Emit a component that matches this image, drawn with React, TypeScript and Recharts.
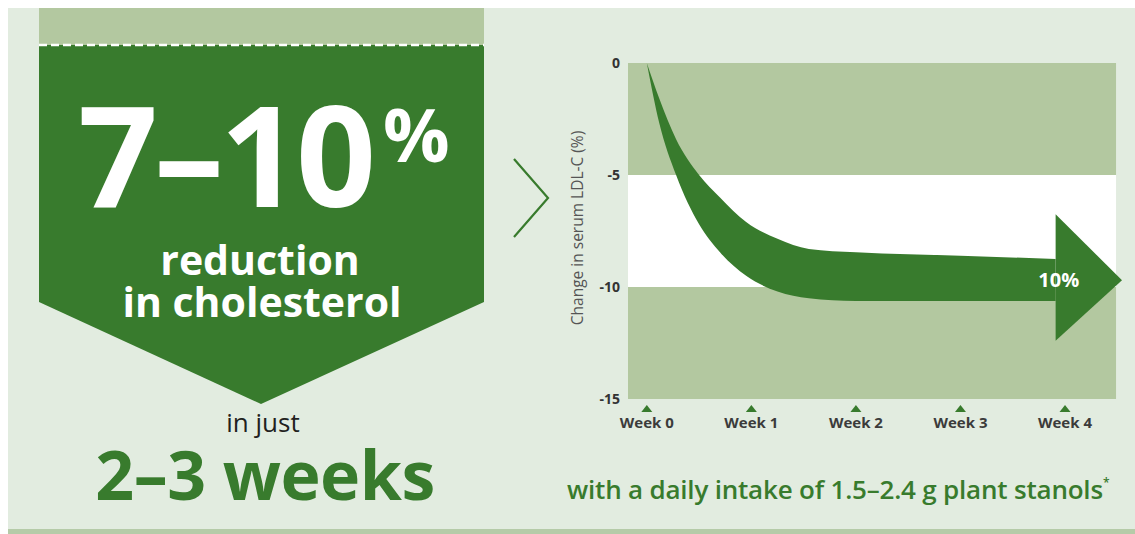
import { ComposedChart, Area, XAxis, YAxis, ReferenceArea, ReferenceDot, Label } from 'recharts';

const GREEN = '#387b2d';
const LIGHT = '#b3c8a0';
const PANEL = '#e2ece0';
const FONT = '"Open Sans", sans-serif';

const weekTicks = [0, 1, 2, 3, 4];
const weekLabels = ['Week 0', 'Week 1', 'Week 2', 'Week 3', 'Week 4'];
const yTicks = [0, -5, -10, -15];
const bandEdges = [0, -5, -10, -15];

// curved body of the arrow (upper / lower edge, % change)
const bodyWeeks = [0, 0.12, 0.28, 0.5, 0.7, 0.95, 1.25, 1.55, 2, 3, 3.91];
const bodyUpper = [0, -1.6, -3.4, -5.0, -6.0, -7.1, -7.85, -8.3, -8.45, -8.6, -8.75];
const bodyLower = [0, -2.7, -5.0, -7.2, -8.45, -9.5, -10.2, -10.5, -10.62, -10.63, -10.63];

// arrow head
const headWeeks = [3.91, 4.545];
const headUpper = [-6.75, -9.7];
const headLower = [-12.4, -9.7];

const bodyData = bodyWeeks.map((w, i) => ({ week: w, range: [bodyLower[i], bodyUpper[i]] }));
const headData = headWeeks.map((w, i) => ({ week: w, range: [headLower[i], headUpper[i]] }));

function WeekTick({ x, y, payload }: any) {
  const label = weekLabels[weekTicks.indexOf(payload.value)];
  return (
    <g>
      <polygon points={`${x - 5.5},${y + 13} ${x + 5.5},${y + 13} ${x},${y + 6}`} fill={GREEN} />
      <text x={x} y={y + 29} textAnchor="middle" fontSize={15} fontWeight={700} fill="#3b3b3b" fontFamily={FONT}>
        {label}
      </text>
    </g>
  );
}

export default function App() {
  return (
    <div style={{ position: 'fixed', left: 0, top: 0, width: 1135, height: 534, overflow: 'hidden', background: '#fff' }}>
      <svg width={1135} height={534} style={{ position: 'absolute', left: 0, top: 0 }} fontFamily={FONT}>
        <rect x={8} y={8} width={1127} height={521} fill={PANEL} />
        <rect x={8} y={529} width={1127} height={5} fill="#b5cba8" />
        <rect x={39} y={8} width={445} height={38} fill={LIGHT} />
        <polygon points="39,45 484,45 484,302 261,404 39,302" fill={GREEN} />
        <line x1={39} x2={484} y1={45} y2={45} stroke="#fff" strokeWidth={2.5} strokeDasharray="8 4" />
        <polyline points="514,159 548,198 514,237" fill="none" stroke={GREEN} strokeWidth={2.2} />

        <text x={78} y={207} fontSize={140} fontWeight={700} fill="#fff" letterSpacing={-4}>7–10</text>
        <text x={383} y={162} fontSize={74} fontWeight={700} fill="#fff">%</text>
        <text x={260} y={275} textAnchor="middle" fontSize={41} fontWeight={700} fill="#fff">reduction</text>
        <text x={262} y={317} textAnchor="middle" fontSize={41} fontWeight={700} fill="#fff">in cholesterol</text>
        <text x={263} y={432} textAnchor="middle" fontSize={26} fill="#231f20">in just</text>
        <text x={265} y={500} textAnchor="middle" fontSize={68} fontWeight={700} fill={GREEN} letterSpacing={-0.5}>2–3 weeks</text>
        <text x={567} y={499} fontSize={26} fontWeight={600} fill={GREEN} letterSpacing={-0.2}>
          with a daily intake of 1.5–2.4 g plant stanols
          <tspan fontSize={12} dy={-12}>*</tspan>
        </text>
      </svg>

      <div style={{ position: 'absolute', left: 540, top: 0 }}>
        <ComposedChart width={595} height={534} margin={{ top: 63, right: 13, bottom: 95, left: 28 }} style={{ fontFamily: FONT }}>
          <XAxis
            type="number"
            dataKey="week"
            domain={[-0.18, 4.545]}
            ticks={weekTicks}
            interval={0}
            allowDataOverflow
            axisLine={false}
            tickLine={false}
            tickSize={0}
            tickMargin={0}
            height={40}
            tick={<WeekTick />}
          />
          <YAxis
            type="number"
            domain={[-15, 0]}
            ticks={yTicks}
            interval={0}
            axisLine={false}
            tickLine={false}
            width={60}
            tickSize={6}
            tickMargin={2}
            tick={{ fontSize: 14, fontWeight: 700, fill: '#333' }}
          >
            <Label value="Change in serum LDL-C (%)" angle={-90} position="center" dx={-21} dy={-3} fontSize={15.5} fill="#555" />
          </YAxis>
          {bandEdges.slice(0, -1).map((edge, i) => (
            <ReferenceArea
              key={edge}
              x1={-0.18}
              x2={4.488}
              y1={edge}
              y2={bandEdges[i + 1]}
              fill={i === 1 ? '#ffffff' : LIGHT}
              fillOpacity={1}
              stroke="none"
            />
          ))}
          <Area data={bodyData} dataKey="range" type="monotone" fill={GREEN} fillOpacity={1} stroke="none" dot={false} activeDot={false} isAnimationActive={false} />
          <Area data={headData} dataKey="range" type="linear" fill={GREEN} fillOpacity={1} stroke="none" dot={false} activeDot={false} isAnimationActive={false} />
          <ReferenceDot
            x={3.94}
            y={-9.7}
            r={0}
            fill="none"
            stroke="none"
            label={{ value: '10%', position: 'center', fill: '#fff', fontSize: 20, fontWeight: 700 }}
          />
        </ComposedChart>
      </div>
    </div>
  );
}
